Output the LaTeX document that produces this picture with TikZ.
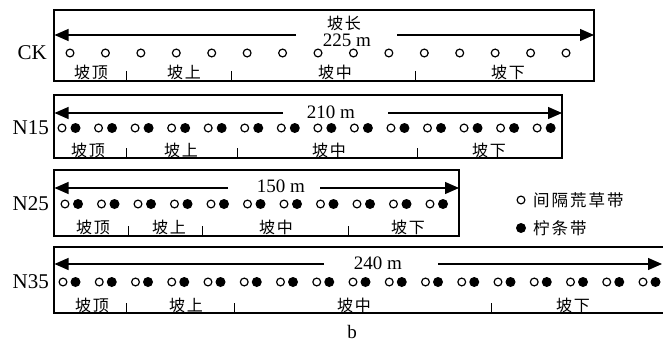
\documentclass[tikz,border=0pt]{standalone}
\usepackage{fontspec}
\setmainfont{Liberation Serif}
\newfontfamily\cjk[LetterSpace=12]{Noto Sans CJK SC}
\usetikzlibrary{arrows.meta}
\tikzset{
  frame/.style={line width=1.3pt},
  dimarrow/.style={line width=1.2pt,-{Triangle[length=14pt,width=12pt]}},
  opendot/.style={circle,draw,line width=1.2pt,inner sep=0pt,minimum size=7.8pt},
  filldot/.style={circle,fill,inner sep=0pt,minimum size=10pt},
  rowlab/.style={anchor=east,inner sep=0pt,font=\fontsize{21}{21}\selectfont},
  distlab/.style={inner sep=0pt,font=\fontsize{19}{19}\selectfont},
  poslab/.style={inner sep=0pt,font=\cjk\fontsize{16}{16}\selectfont},
  legtext/.style={anchor=west,inner sep=0pt,font=\cjk\fontsize{16.5}{16.5}\selectfont},
  tickmark/.style={line width=1pt},
}
\begin{document}
\begin{tikzpicture}[x=1pt,y=-1pt]
\useasboundingbox (0,0) rectangle (663,342);
\clip (0,0) rectangle (663,342);
% ---------------- CK
\draw[frame] (54,10) rectangle (594,81);
\coordinate (ckA) at (296,35); \coordinate (ckAe) at (54.5,35);
\coordinate (ckB) at (397,35); \coordinate (ckBe) at (594,35);
\draw[dimarrow] (ckA) -- (ckAe);
\draw[dimarrow] (ckB) -- (ckBe);
\node[poslab] (cklen) at (344,23) {坡长};
\node[distlab] (ckdist) at (347,40) {225 m};
\node[rowlab] (cklab) at (47,53) {CK};
\foreach \i in {0,...,14} \node[opendot] (ck\i) at ({70+35.43*\i},53) {};
\node[poslab] (ckp1) at (91,72) {坡顶};
\node[poslab] (ckp2) at (184,72) {坡上};
\node[poslab] (ckp3) at (335,72) {坡中};
\node[poslab] (ckp4) at (508,72) {坡下};
\foreach \x in {126,231,415} \draw[tickmark] (\x,71) -- (\x,81);
% ---------------- N15
\draw[frame] (54,95) rectangle (562,158);
\coordinate (naA) at (283,113); \coordinate (naAe) at (54.5,113);
\coordinate (naB) at (388,113); \coordinate (naBe) at (562,113);
\draw[dimarrow] (naA) -- (naAe);
\draw[dimarrow] (naB) -- (naBe);
\node[distlab] (nadist) at (331,112) {210 m};
\node[rowlab] (nalab) at (49,128) {N15};
\foreach \i in {0,...,13} {
  \node[opendot] (nao\i) at ({62+36.55*\i},128) {};
  \node[filldot] (naf\i) at ({75.5+36.55*\i},128) {};
}
\node[poslab] (nap1) at (88,150) {坡顶};
\node[poslab] (nap2) at (181,150) {坡上};
\node[poslab] (nap3) at (329,150) {坡中};
\node[poslab] (nap4) at (489,150) {坡下};
\foreach \x in {126,237,417} \draw[tickmark] (\x,148) -- (\x,158);
% ---------------- N25
\draw[frame] (54,170) rectangle (459,236);
\coordinate (nbA) at (228,188); \coordinate (nbAe) at (54.5,188);
\coordinate (nbB) at (320,188); \coordinate (nbBe) at (459,188);
\draw[dimarrow] (nbA) -- (nbAe);
\draw[dimarrow] (nbB) -- (nbBe);
\node[distlab] (nbdist) at (281,186) {150 m};
\node[rowlab] (nblab) at (49,204) {N25};
\foreach \i in {0,...,10} {
  \node[opendot] (nbo\i) at ({65+36.5*\i},204) {};
  \node[filldot] (nbf\i) at ({78+36.5*\i},204) {};
}
\node[poslab] (nbp1) at (93,227) {坡顶};
\node[poslab] (nbp2) at (169,227) {坡上};
\node[poslab] (nbp3) at (276,227) {坡中};
\node[poslab] (nbp4) at (408,227) {坡下};
\foreach \x in {128,202,348} \draw[tickmark] (\x,226) -- (\x,236);
% legend
\node[opendot] (legopen) at (521,200) {};
\node[legtext] (legopent) at (533,200) {间隔荒草带};
\node[filldot] (legfill) at (521,228) {};
\node[legtext] (legfillt) at (533,228) {柠条带};
% ---------------- N35
\draw[frame] (54,247) rectangle (680,313);
\coordinate (ncA) at (324,264); \coordinate (ncAe) at (54.5,264);
\coordinate (ncB) at (438,264); \coordinate (ncBe) at (662,264);
\draw[dimarrow] (ncA) -- (ncAe);
\draw[dimarrow] (ncB) -- (ncBe);
\node[distlab] (ncdist) at (378,263) {240 m};
\node[rowlab] (nclab) at (49,282) {N35};
\foreach \i in {0,...,16} {
  \node[opendot] (nco\i) at ({63+36.25*\i},282) {};
  \node[filldot] (ncf\i) at ({75.5+36.25*\i},282) {};
}
\node[poslab] (ncp1) at (92,305) {坡顶};
\node[poslab] (ncp2) at (186,305) {坡上};
\node[poslab] (ncp3) at (354,305) {坡中};
\node[poslab] (ncp4) at (573,305) {坡下};
\foreach \x in {126,234,491} \draw[tickmark] (\x,303) -- (\x,313);
% caption
\node[distlab] (cap) at (352,332) {b};
\end{tikzpicture}
\end{document}
